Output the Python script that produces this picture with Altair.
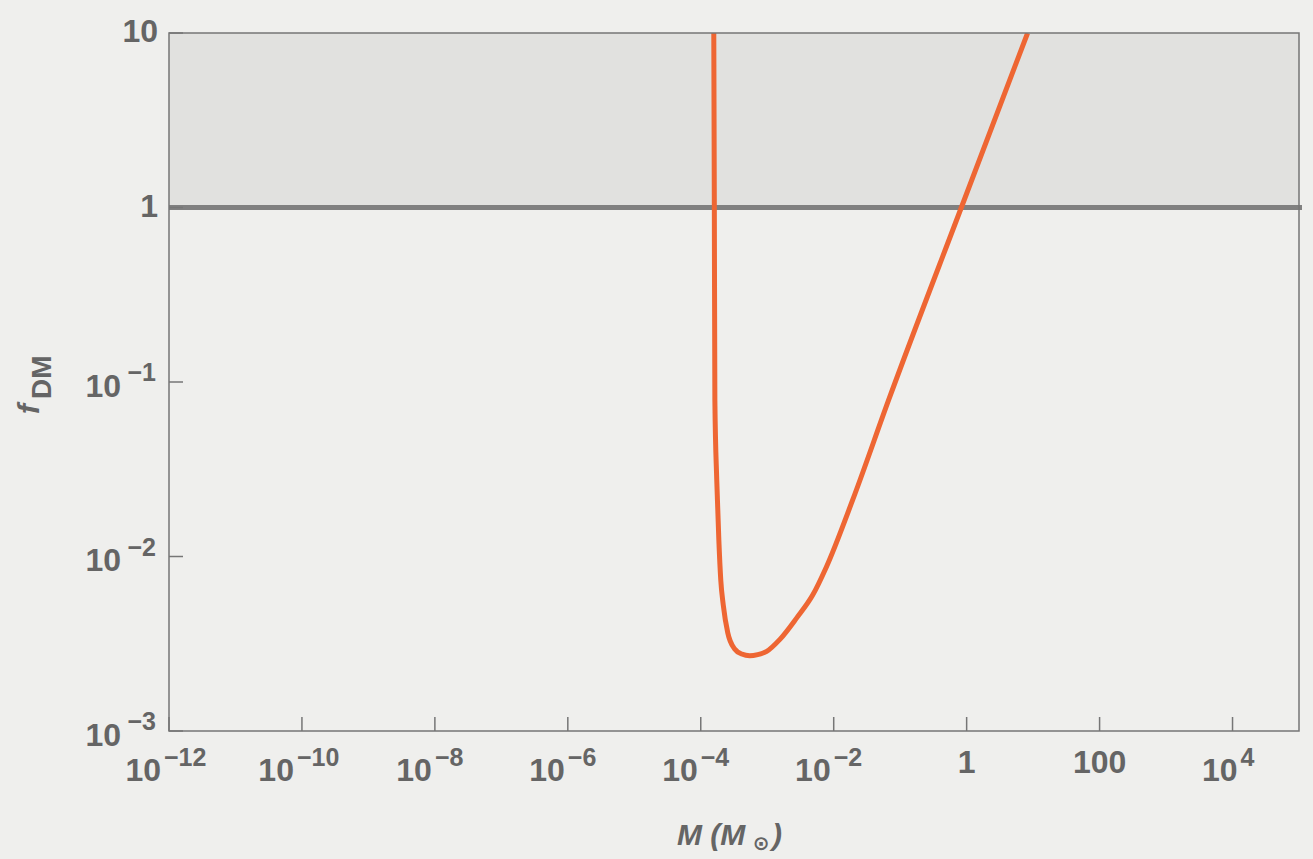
import altair as alt
import pandas as pd

# Upper limit on the dark-matter fraction versus compact-object mass
mass = [1.57e-4, 1.60e-4, 1.63e-4, 1.74e-4, 1.87e-4, 2.00e-4, 2.18e-4, 2.55e-4,
        3.24e-4, 4.14e-4, 5.46e-4, 7.19e-4, 9.82e-4, 1.54e-3, 2.78e-3, 4.83e-3,
        7.76e-3, 1.93e-2, 6.71e-2, 0.832, 8.26]
f_dm = [10, 1.0, 0.0789, 0.0274, 0.01245, 0.00733, 0.00527, 0.00365, 0.00295,
        0.00276, 0.00270, 0.00274, 0.00286, 0.00334, 0.00445, 0.00601, 0.00871,
        0.0211, 0.0789, 1.0, 10]

# Excluded region f_DM > 1
band_lo = [1]
band_hi = [10]

# Tick values and their labels (base + exponent)
x_ticks = [1e-12, 1e-10, 1e-8, 1e-6, 1e-4, 1e-2, 1, 100, 1e4]
x_base = ["10", "10", "10", "10", "10", "10", "1", "100", "10"]
x_exp = ["\u221212", "\u221210", "\u22128", "\u22126", "\u22124", "\u22122", "", "", "4"]
y_ticks = [1e-3, 1e-2, 1e-1, 1, 10]
y_base = ["10", "10", "10", "1", "10"]
y_exp = ["\u22123", "\u22122", "\u22121", "", ""]

W, H = 1130, 698
BG = "#efefed"
INK = "#656565"
FRAME = "#767676"
FONT = "Liberation Sans"

xscale = alt.Scale(type="log", domain=[1e-12, 1e5], nice=False)
yscale = alt.Scale(type="log", domain=[1e-3, 10], nice=False)

curve_df = pd.DataFrame({"M": mass, "f": f_dm, "i": list(range(len(mass)))})
band_df = pd.DataFrame({"lo": band_lo, "hi": band_hi})
xt_df = pd.DataFrame({"v": x_ticks, "base": x_base, "exp": x_exp})
yt_df = pd.DataFrame({"v": y_ticks, "base": y_base, "exp": y_exp})
one = pd.DataFrame({"k": [0]})

X = lambda f: alt.X(f, scale=xscale, axis=None)
Y = lambda f: alt.Y(f, scale=yscale, axis=None)

band = alt.Chart(band_df).mark_rect(color="#e1e1df").encode(
    x=alt.value(0), x2=alt.value(W), y=Y("lo:Q"), y2="hi:Q")

unity = alt.Chart(band_df).mark_rule(color="#808080", strokeWidth=5).encode(
    y=Y("lo:Q"), x=alt.value(0), x2=alt.value(W + 3))

xticks = alt.Chart(xt_df).mark_rule(color=FRAME, strokeWidth=1.5).encode(
    x=X("v:Q"), y=alt.value(H), y2=alt.value(H - 14))
yticks = alt.Chart(yt_df).mark_rule(color=FRAME, strokeWidth=1.5).encode(
    y=Y("v:Q"), x=alt.value(0), x2=alt.value(14))

curve = alt.Chart(curve_df).mark_line(
    color="#ee6633", strokeWidth=5, clip=True, strokeJoin="round",
    interpolate="monotone").encode(
    x=X("M:Q"), y=Y("f:Q"), order="i:Q")

frame = alt.Chart(one).mark_rect(filled=False, stroke=FRAME, strokeWidth=1.5).encode(
    x=alt.value(0), x2=alt.value(W), y=alt.value(0), y2=alt.value(H))

BASE_SIZE = 32
EXP_SIZE = 25


def txt(size, align, dx, dy, italic=False, font=FONT):
    return dict(font=font, fontSize=size, fontWeight="bold",
                fontStyle="italic" if italic else "normal",
                align=align, baseline="alphabetic", dx=dx, dy=dy, color=INK)


# x-axis labels, grouped by exponent length so each group is centred on its tick
x_labels = []
for n, dxb in [(3, -8), (2, -3), (1, 5)]:
    flt = f"length(datum.exp) == {n}"
    x_labels.append(alt.Chart(xt_df).transform_filter(flt)
                    .mark_text(**txt(BASE_SIZE, "right", dxb, 50))
                    .encode(x=X("v:Q"), y=alt.value(H), text="base:N"))
    x_labels.append(alt.Chart(xt_df).transform_filter(flt)
                    .mark_text(**txt(EXP_SIZE, "left", dxb + 3, 35))
                    .encode(x=X("v:Q"), y=alt.value(H), text="exp:N"))
x_labels.append(alt.Chart(xt_df).transform_filter("length(datum.exp) == 0")
                .mark_text(**txt(BASE_SIZE, "center", 0, 42))
                .encode(x=X("v:Q"), y=alt.value(H), text="base:N"))

# y-axis labels
y_labels = [
    alt.Chart(yt_df).transform_filter("length(datum.exp) > 0")
    .mark_text(**txt(BASE_SIZE, "right", -48, 14.5))
    .encode(y=Y("v:Q"), x=alt.value(0), text="base:N"),
    alt.Chart(yt_df).transform_filter("length(datum.exp) > 0")
    .mark_text(**txt(EXP_SIZE, "right", -13, -1))
    .encode(y=Y("v:Q"), x=alt.value(0), text="exp:N"),
    alt.Chart(yt_df).transform_filter("length(datum.exp) == 0")
    .mark_text(**txt(BASE_SIZE, "right", -11, 9))
    .encode(y=Y("v:Q"), x=alt.value(0), text="base:N"),
]

# Axis titles: M (M_sun) and f_DM
titles = [
    alt.Chart(one).mark_text(text="M (M", **txt(30, "left", 0, 0, italic=True))
    .encode(x=alt.value(508), y=alt.value(812)),
    alt.Chart(one).mark_text(text="\u2299", **txt(20, "center", 0, 0, font="DejaVu Sans"))
    .encode(x=alt.value(592), y=alt.value(817)),
    alt.Chart(one).mark_text(text=")", **txt(30, "left", 0, 0, italic=True))
    .encode(x=alt.value(603), y=alt.value(812)),
    alt.Chart(one).mark_text(text="f", angle=270, **txt(30, "left", 0, 0, italic=True))
    .encode(x=alt.value(-130), y=alt.value(381)),
    alt.Chart(one).mark_text(text="DM", angle=270, **txt(28, "left", 15, 12))
    .encode(x=alt.value(-130), y=alt.value(381)),
]

chart = alt.layer(
    band, unity, xticks, yticks, curve, frame, *x_labels, *y_labels, *titles
).properties(
    width=W, height=H,
    autosize=alt.AutoSizeParams(type="none"),
    padding={"left": 169, "top": 33, "right": 14, "bottom": 128},
    background=BG,
).configure_view(stroke=None)

chart.save("out.html", embed_options={"renderer": "svg", "actions": False})
